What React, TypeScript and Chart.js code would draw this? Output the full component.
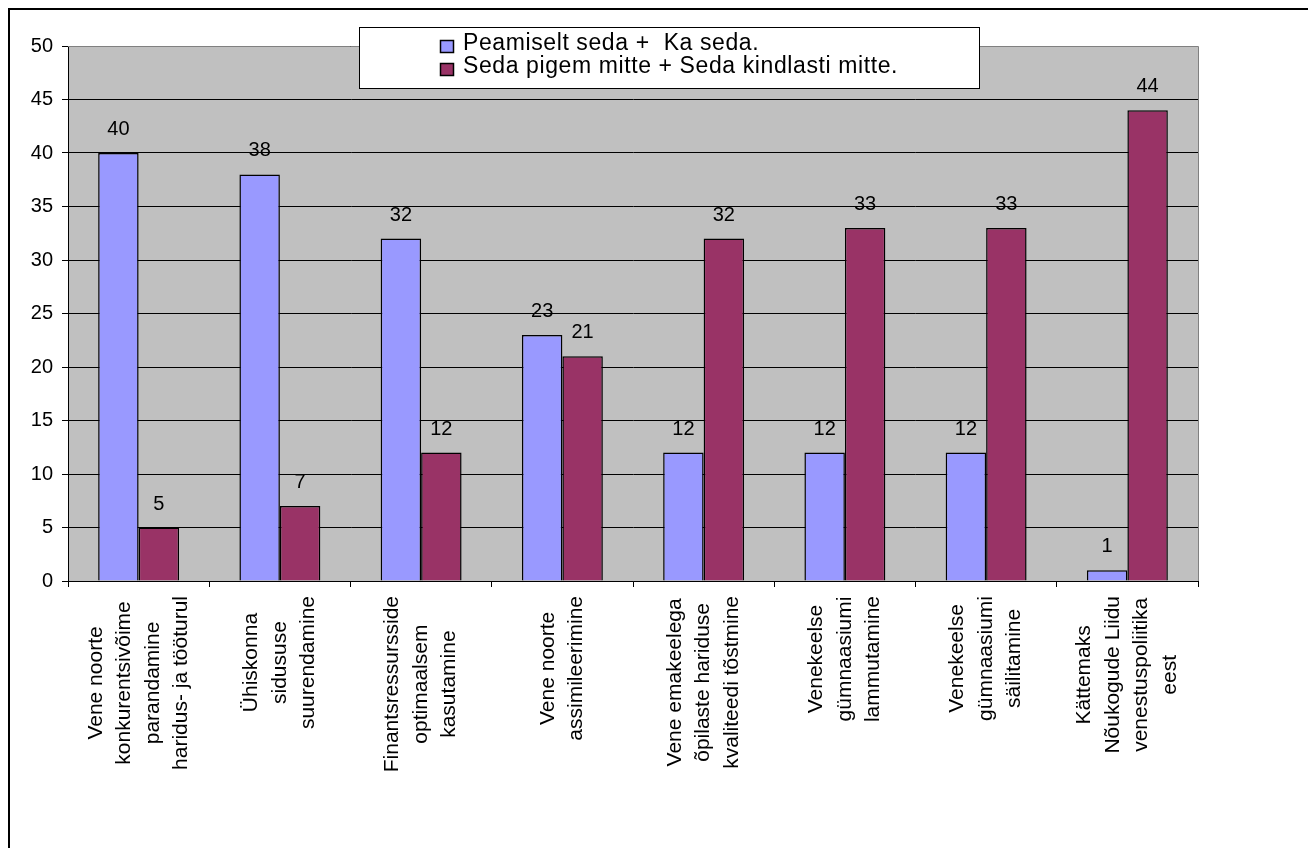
import React, { useEffect, useRef } from "react";
import { Chart, registerables } from "chart.js";

Chart.register(...registerables);

// ---- data ----
const categories: string[][] = [
  ["Vene noorte", "konkurentsivõime", "parandamine", "haridus- ja tööturul"],
  ["Ühiskonna", "sidususe", "suurendamine"],
  ["Finantsressursside", "optimaalsem", "kasutamine"],
  ["Vene noorte", "assimileerimine"],
  ["Vene emakeelega", "õpilaste hariduse", "kvaliteedi tõstmine"],
  ["Venekeelse", "gümnaasiumi", "lammutamine"],
  ["Venekeelse", "gümnaasiumi", "säilitamine"],
  ["Kättemaks", "Nõukogude Liidu", "venestuspoliitika", "eest"],
];
const seriesNames = [
  "Peamiselt seda +  Ka seda.",
  "Seda pigem mitte + Seda kindlasti mitte.",
];
const positiveValues = [40, 38, 32, 23, 12, 12, 12, 1];
const negativeValues = [5, 7, 12, 21, 32, 33, 33, 44];
const yMin = 0;
const yMax = 50;
const yStep = 5;

const FONT = '"Liberation Sans", Arial, Helvetica, sans-serif';
const COLORS = ["#9999FF", "#993366"];

const chartPlugin = {
  id: "excelLook",
  beforeDraw(chart: any) {
    const { ctx, chartArea: a } = chart;
    ctx.save();
    ctx.fillStyle = "#ffffff";
    ctx.fillRect(0, 0, chart.width, chart.height);
    ctx.fillStyle = "#C0C0C0";
    ctx.fillRect(a.left, a.top, a.right - a.left, a.bottom - a.top);
    ctx.restore();
  },
  afterDraw(chart: any) {
    const { ctx, chartArea: a } = chart;
    const xScale = chart.scales.x;
    ctx.save();

    // plot area border (top & right) in gray
    ctx.strokeStyle = "#808080";
    ctx.lineWidth = 1;
    const t = Math.round(a.top - 0.5) + 0.5;
    const r = Math.round(a.right - 0.5) + 0.5;
    ctx.beginPath();
    ctx.moveTo(a.left, t);
    ctx.lineTo(r, t);
    ctx.lineTo(r, a.bottom);
    ctx.stroke();

    // data labels
    ctx.fillStyle = "#000";
    ctx.font = `20px ${FONT}`;
    ctx.textAlign = "center";
    ctx.textBaseline = "alphabetic";
    chart.data.datasets.forEach((ds: any, di: number) => {
      const meta = chart.getDatasetMeta(di);
      meta.data.forEach((el: any, i: number) => {
        ctx.fillText(String(ds.data[i]), el.x, el.y - 18);
      });
    });

    // category labels (rotated, lines centered)
    ctx.font = `21px ${FONT}`;
    const lineGap = 28.5;
    const topY = a.bottom + 15;
    chart.data.labels.forEach((lines: string[], i: number) => {
      const cx = xScale.getPixelForValue(i);
      const maxW = Math.max(...lines.map((l) => ctx.measureText(l).width));
      const n = lines.length;
      lines.forEach((line, j) => {
        const lx = cx + (j - (n - 1) / 2) * lineGap;
        ctx.save();
        ctx.translate(lx, topY + maxW / 2);
        ctx.rotate(-Math.PI / 2);
        ctx.textAlign = "center";
        ctx.textBaseline = "middle";
        ctx.fillText(line, 0, 0);
        ctx.restore();
      });
    });

    // legend box
    const bx = 359.5, by = 27.5, bw = 620, bh = 61;
    ctx.fillStyle = "#fff";
    ctx.fillRect(bx, by, bw, bh);
    ctx.strokeStyle = "#000";
    ctx.lineWidth = 1;
    ctx.strokeRect(bx, by, bw, bh);
    ctx.font = `23px ${FONT}`;
    (ctx as any).letterSpacing = "0.6px";
    ctx.textAlign = "left";
    ctx.textBaseline = "alphabetic";
    chart.data.datasets.forEach((ds: any, di: number) => {
      const sy = 40.5 + di * 23;
      ctx.fillStyle = ds.backgroundColor;
      ctx.fillRect(440.5, sy, 13, 12);
      ctx.strokeStyle = "#000";
      ctx.lineWidth = 1.5;
      ctx.strokeRect(440.5, sy, 13, 12);
      ctx.fillStyle = "#000";
      ctx.fillText(ds.label, 463, 50 + di * 23);
    });
    (ctx as any).letterSpacing = "0px";

    // outer frame (top & left)
    ctx.fillStyle = "#000";
    ctx.fillRect(8, 8, chart.width - 8, 2);
    ctx.fillRect(8, 8, 2, chart.height - 8);

    ctx.restore();
  },
};

export default function App() {
  const ref = useRef<HTMLCanvasElement | null>(null);

  useEffect(() => {
    if (!ref.current) return;
    const chart = new Chart(ref.current, {
      type: "bar",
      data: {
        labels: categories as any,
        datasets: [
          {
            label: seriesNames[0],
            data: positiveValues,
            backgroundColor: COLORS[0],
            borderColor: "#000",
            borderWidth: 1.5,
            categoryPercentage: 0.573,
            barPercentage: 1,
          },
          {
            label: seriesNames[1],
            data: negativeValues,
            backgroundColor: COLORS[1],
            borderColor: "#000",
            borderWidth: 1.5,
            categoryPercentage: 0.573,
            barPercentage: 1,
          },
        ],
      },
      options: {
        animation: false,
        responsive: false,
        events: [],
        layout: { padding: { left: 0, top: 46, right: 110, bottom: 0 } },
        plugins: {
          legend: { display: false },
          tooltip: { enabled: false },
        },
        scales: {
          x: {
            grid: {
              display: true,
              drawOnChartArea: false,
              drawTicks: true,
              tickLength: 6,
              color: "#000",
              offset: true,
            },
            border: { display: true, color: "#000", width: 1 },
            ticks: { display: false },
            afterFit: (s: any) => {
              s.height = 267;
            },
          },
          y: {
            min: yMin,
            max: yMax,
            ticks: {
              stepSize: yStep,
              color: "#000",
              font: { family: FONT, size: 20 },
              padding: 9,
            },
            grid: { color: "#000", lineWidth: 1, drawTicks: true, tickLength: 6 },
            border: { display: true, color: "#000", width: 1 },
            afterFit: (s: any) => {
              s.width = 68;
            },
          },
        },
      },
      plugins: [chartPlugin],
    });
    return () => chart.destroy();
  }, []);

  return (
    <div style={{ position: "absolute", left: 0, top: 0, width: 1308, height: 848 }}>
      <canvas ref={ref} width={1308} height={848} style={{ display: "block" }} />
    </div>
  );
}
